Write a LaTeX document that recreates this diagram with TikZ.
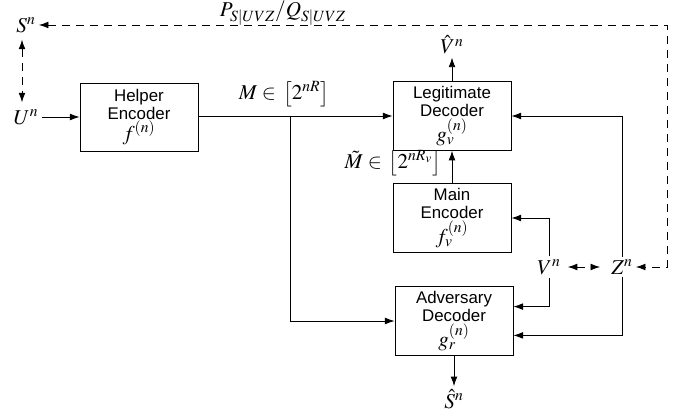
\documentclass[tikz,border=0pt]{standalone}
\usepackage{mathptmx}
\usepackage{fontspec}
\setsansfont{Liberation Sans}
\usetikzlibrary{arrows.meta, positioning, calc}

\newcommand{\boxmath}[1]{{\fontsize{15}{13}\selectfont$#1$}}

\begin{document}
\begin{tikzpicture}[
    x=0.025cm, y=-0.025cm,
    line width=0.6pt,
    block/.style={rectangle, draw, minimum width=2.95cm, minimum height=1.7cm,
                  align=center, font=\sffamily\fontsize{12}{13}\selectfont},
    sig/.style={font=\fontsize{15}{16}\selectfont, inner sep=2pt},
    arr/.style={-{Latex[length=2.4mm, width=1.7mm]}},
    darr/.style={{Latex[length=2.4mm, width=1.7mm]}-{Latex[length=2.4mm, width=1.7mm]},
                 dash pattern=on 2mm off 1.5mm},
]
    \useasboundingbox (0,0) rectangle (681,418);

    % Blocks
    \node[block] (helper)  at (139,117) {Helper\\Encoder\\\boxmath{f^{(n)}}};
    \node[block] (legit)   at (452,116) {Legitimate\\Decoder\\\boxmath{g_v^{(n)}}};
    \node[block] (mainenc) at (452,218) {Main\\Encoder\\\boxmath{f_v^{(n)}}};
    \node[block] (adv)     at (454,321) {Adversary\\Decoder\\\boxmath{g_r^{(n)}}};

    % Sources and outputs
    \node[sig] (Sn)   at (26,25)   {$S^n$};
    \node[sig] (Un)   at (26,117)  {$U^n$};
    \node[sig] (Vhat) at (452,45)  {$\hat{V}^n$};
    \node[sig] (Shat) at (454,399) {$\hat{S}^n$};
    \node[sig] (Vn)   at (549,267) {$V^n$};
    \node[sig] (Zn)   at (622,267) {$Z^n$};

    % Labels
    \node[sig] (plab)  at (283,13)  {$P_{S|UVZ}/Q_{S|UVZ}$};
    \node[sig] (mlab)  at (284,94)  {$M \in\, \big[2^{nR}\big]$};
    \node[sig] (mtlab) at (393,163) {$\tilde{M} \in\, \big[2^{nR_v}\big]$};

    \coordinate (split) at (290,116);
    \coordinate (fb) at (667,25);

    % Helper message
    \draw[arr] (Un) -- (helper);
    \draw[arr] (helper.east |- split) -- (legit);
    \draw[arr] (split) |- (adv);

    % Main link
    \draw[arr] (mainenc) -- (legit);
    \draw[arr] (legit) -- (Vhat);
    \draw[arr] (adv) -- (Shat);

    % Side information
    \draw[arr] (Vn) |- (mainenc);
    \draw[arr] (Vn) |- ([yshift=0.36cm]adv.east);
    \draw[arr] (Zn) |- (legit);
    \draw[arr] (Zn) |- ([yshift=-0.36cm]adv.east);

    % Correlations
    \draw[darr, shorten <=1mm, shorten >=2mm] (Vn) -- (Zn);
    \draw[darr] (Sn) -- (fb) |- (Zn);
    \draw[darr, shorten <=1mm, shorten >=1mm] ([xshift=-1mm]Sn.south) -- ([xshift=-1mm]Un.north);
\end{tikzpicture}
\end{document}
